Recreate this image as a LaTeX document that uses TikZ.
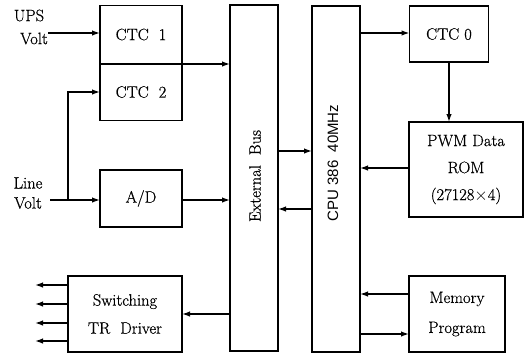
\documentclass[tikz,border=0pt]{standalone}
\usepackage{fontspec}
\setmainfont{Latin Modern Roman}[FakeBold=0.6]
\newfontfamily\cpufont{Liberation Sans}
\usetikzlibrary{arrows.meta}
\begin{document}
\begin{tikzpicture}[x=1pt,y=-1pt,
  box/.style={draw,line width=1.4pt,inner sep=0pt,outer sep=0pt,align=center},
  lbl/.style={inner sep=0pt,align=center},
  arr/.style={line width=1.4pt,-{Latex[length=8pt,width=5.5pt]}},
  ln/.style={line width=1.4pt},
  every node/.style={font=\fontsize{16.5}{27}\selectfont}]
\useasboundingbox (0,0) rectangle (530,354);
% boxes
\node[box,minimum width=82pt,minimum height=58pt] (ctc1) at (141,34.5) {CTC\ \ 1};
\node[box,minimum width=82pt,minimum height=57pt] (ctc2) at (141,92) {CTC\ \ 2};
\node[box,minimum width=82pt,minimum height=57pt] (ad) at (141,198.5) {A/D};
\node[box,minimum width=114pt,minimum height=76pt,font=\fontsize{16.5}{28}\selectfont] (sw) at (125,314) {Switching\\TR\ \ Driver};
\node[box,minimum width=48pt,minimum height=346pt] (bus) at (254,178) {};
\node[lbl,rotate=90] (bustxt) at (255,176) {External\ \ Bus};
\node[box,minimum width=48pt,minimum height=346pt] (cpu) at (336,179) {};
\node[lbl,rotate=90,font=\cpufont\fontsize{15}{18}\selectfont] (cputxt) at (333,163) {CPU\ 386\ \ 40MHz};
\node[box,minimum width=79pt,minimum height=56pt] (ctc0) at (449,34) {CTC 0};
\node[box,minimum width=114pt,minimum height=95pt] (pwm) at (466,169.5) {PWM Data\\ROM\\(27128$\times$4)};
\node[box,minimum width=96pt,minimum height=76pt,font=\fontsize{16.5}{30}\selectfont] (mem) at (457,314) {Memory\\Program};
% input labels
\node[lbl,font=\fontsize{16.5}{23}\selectfont] (ups) at (29,27) {UPS\\\ \ Volt};
\node[lbl,font=\fontsize{16.5}{20}\selectfont] (line) at (28,193) {Line\\Volt};
\coordinate (upsin) at (48,33);
\coordinate (linein) at (50,200);
\coordinate (br) at (68,200);
\coordinate (o1) at (35,285);
\coordinate (o2) at (35,304);
\coordinate (o3) at (35,323);
\coordinate (o4) at (35,341);
% connectors
\draw[arr] (upsin) -- (upsin -| ctc1.west);
\draw[ln] (linein) -- (br);
\draw[arr] (br) -- (ad.west |- br);
\draw[arr] (br) -- (68,92) -- (ctc2.west |- 0,92);
\draw[arr] (ctc1.west |- 0,64) -- (bus.west |- 0,64);
\draw[arr] (ad.east |- 0,200) -- (bus.west |- 0,200);
\draw[arr] (bus.west |- 0,314) -- (sw.east |- 0,314);
\foreach \o in {o1,o2,o3,o4} \draw[arr] (sw.west |- \o) -- (\o);
\draw[arr] (bus.east |- 0,151) -- (cpu.west |- 0,151);
\draw[arr] (cpu.west |- 0,209) -- (bus.east |- 0,209);
\draw[arr] (cpu.east |- 0,33) -- (ctc0.west |- 0,33);
\draw[arr] (ctc0.south -| 449,0) -- (pwm.north -| 449,0);
\draw[arr] (pwm.west |- 0,168) -- (cpu.east |- 0,168);
\draw[arr] (mem.west |- 0,294) -- (cpu.east |- 0,294);
\draw[arr] (cpu.east |- 0,334) -- (mem.west |- 0,334);
\end{tikzpicture}
\end{document}
